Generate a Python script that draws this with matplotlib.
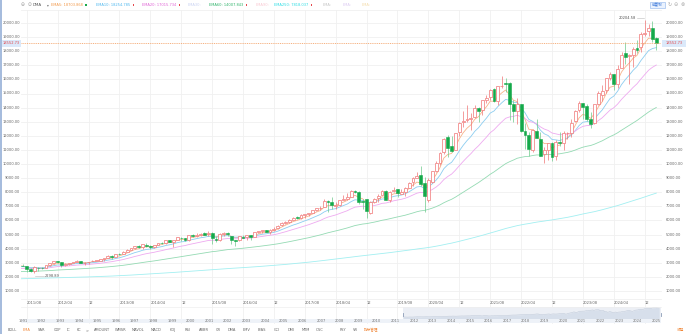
import numpy as np
import matplotlib
matplotlib.use("Agg")
import matplotlib.pyplot as plt
from matplotlib.patches import Rectangle

plt.rcParams['font.family'] = ['DejaVu Sans']
CJK = ['Noto Sans CJK SC', 'DejaVu Sans']

# monthly candles, first bar = 2011/06, last bar = 2025/03
first_year, first_month = 2011, 6

opens = [
    2769, 2779, 2770, 2574, 2406, 2636, 2609,
    2627, 2827, 2971, 3093, 3040, 2825, 2939, 2951, 3074, 3114, 2991, 3018,
    3091, 3150, 3154, 3266, 3320, 3463, 3434, 3638, 3611, 3775, 3927, 4068,
    4160, 4103, 4269, 4202, 4125, 4247, 4413, 4365, 4596, 4498, 4633, 4781,
    4760, 4631, 4971, 4903, 4960, 5073, 5013, 5133, 4691, 4630, 5070, 5128,
    4897, 4587, 4579, 4852, 4789, 4944, 4838, 5171, 5213, 5318, 5188, 5331,
    5426, 5645, 5829, 5916, 6049, 6215, 6180, 6361, 6443, 6523, 6726, 6880,
    6937, 7385, 7282, 7036, 7086, 7471, 7499, 7681, 8117, 8049, 7340, 7486,
    6507, 7310, 7576, 7800, 8087, 7460, 8091, 8199, 7906, 8016, 8331, 8700,
    9039, 9190, 8667, 7459, 8740, 9471, 10061, 10878, 11883, 11288, 11010, 12255,
    12958, 13127, 13224, 13320, 13981, 13807, 14546, 14719, 15322, 14454, 15530, 15722,
    15732, 14284, 13769, 14273, 12338, 12036, 11004, 12320, 11782, 10738, 11013, 11523,
    10563, 11549, 11471, 12205, 12170, 13020, 13839, 14325, 14122, 13216, 12886, 14247,
    14874, 15217, 16121, 16388, 15683, 16827, 17880, 17630, 17708, 18212, 18281, 19236,
    19404, 19679, 18939,
]
highs = [
    2796, 2887, 2777, 2644, 2753, 2700, 2689,
    2818, 2987, 3134, 3123, 3085, 2945, 2980, 3085, 3196, 3138, 3021, 3068,
    3160, 3213, 3271, 3345, 3532, 3516, 3627, 3694, 3795, 3952, 4070, 4177,
    4247, 4342, 4372, 4287, 4247, 4409, 4486, 4580, 4610, 4641, 4810, 4815,
    4777, 4984, 5043, 5120, 5111, 5164, 5232, 5148, 4870, 5086, 5163, 5176,
    4903, 4629, 4870, 4975, 4955, 4985, 5176, 5272, 5343, 5342, 5408, 5512,
    5665, 5855, 5929, 6075, 6245, 6341, 6460, 6423, 6496, 6753, 6914, 7004,
    7506, 7451, 7637, 7317, 7445, 7806, 7933, 8133, 8133, 8107, 7486, 7536,
    7356, 7577, 7850, 8176, 8164, 8106, 8340, 8248, 8243, 8375, 8705, 9052,
    9451, 9838, 9070, 8981, 9523, 10221, 10874, 11829, 12074, 11965, 12232, 12973,
    13729, 14176, 13620, 14212, 14011, 14535, 14863, 15288, 15404, 15505, 16212, 16114,
    15833, 14543, 14647, 14283, 12943, 12241, 12467, 13181, 12270, 11224, 11500, 11571,
    11691, 12270, 12312, 12269, 13212, 13830, 14447, 14350, 14257, 13714, 14259, 15147,
    15598, 16134, 16539, 16416, 17032, 17937, 18671, 17786, 18326, 18785, 19366, 20204.58,
    19952, 20111, 19038,
]
lows = [
    2612, 2736, 2331, 2335, 2298.89, 2441, 2519,
    2624, 2800, 2930, 2987, 2726, 2747, 2825, 2946, 3040, 2977, 2810, 2919,
    3087, 3105, 3148, 3154, 3299, 3294, 3429, 3578, 3602, 3750, 3892, 3997,
    4064, 3968, 4138, 3946, 4042, 4232, 4359, 4325, 4486, 4117, 4585, 4548,
    4563, 4558, 4818, 4843, 4877, 4986, 4909, 4292, 4487, 4544, 4918, 4899,
    4313, 4210, 4549, 4749, 4637, 4575, 4822, 5139, 5125, 5154, 5035, 5261,
    5398, 5594, 5770, 5805, 5997, 6081, 6095, 6178, 6327, 6492, 6671, 6720,
    6926, 6630, 6805, 6807, 7003, 7445, 7452, 7641, 7922, 7193, 6830, 6190,
    6457, 7246, 7332, 7783, 7442, 7292, 7990, 7662, 7839, 7701, 8296, 8434,
    8981, 8436, 6631, 7286, 8634, 9403, 9948, 10708, 10520, 10822, 10973, 12011,
    12620, 13003, 12397, 13239, 12986, 13509, 14334, 14555, 14432, 14182, 15356, 15115,
    13095, 13003, 12834, 12288, 11036, 10565, 10860, 11816, 10576, 10089, 10262, 10207,
    10265, 11296, 10983, 11797, 11925, 12948, 13710, 13161, 13073, 12544, 12854, 14180,
    14478, 15038, 15987, 15223, 15356, 16820, 17126, 15708, 16851, 17853, 17936, 19100,
    19069, 18677, 18100,
]
closes = [
    2774, 2756, 2579, 2415, 2684, 2620, 2605,
    2814, 2967, 3091, 3046, 2827, 2935, 2940, 3067, 3116, 2977, 3010, 3020,
    3142, 3160, 3268, 3329, 3456, 3403, 3626, 3590, 3771, 3920, 4060, 4177,
    4104, 4308, 4199, 4115, 4243, 4408, 4370, 4580, 4493, 4631, 4792, 4736,
    4635, 4964, 4901, 4941, 5070, 4987, 5128, 4777, 4620, 5054, 5109, 5007,
    4614, 4558, 4870, 4775, 4948, 4843, 5162, 5213, 5312, 5189, 5324, 5383,
    5615, 5825, 5912, 6048, 6199, 6140, 6348, 6429, 6496, 6728, 6874, 6903,
    7411, 7273, 7063, 7066, 7442, 7510, 7672, 8110, 8046, 7306, 7331, 6635,
    7282, 7533, 7729, 8095, 7453, 8006, 8175, 7963, 7999, 8292, 8665, 8973,
    9151, 8567, 7700, 8890, 9490, 10059, 10745, 11775, 11168, 10912, 12199, 12888,
    13071, 13192, 13247, 13962, 13749, 14504, 14673, 15259, 14449, 15498, 15538, 15645,
    14240, 13751, 14221, 12335, 12081, 11029, 12391, 11816, 10576, 10988, 11468, 10466,
    11585, 11456, 12222, 12227, 12935, 13788, 14346, 14035, 13219, 12851, 14226, 15011,
    15164, 16092, 16379, 15658, 16735, 17733, 17599, 17714, 18189, 18095, 19218, 19311,
    19627, 18847, 18552.73,
]

# EMA periods and their starting levels at the left edge
ema_periods = [5, 10, 20, 60, 250]
ema_seeds = [2760, 2700, 2560, 2350, 1850]
ema_colors = ['#f7b48a', '#8ccdf0', '#eeaaf0', '#94dab3', '#a2eff1']

legend_labels = ['EMA5: 18703.868', 'EMA10: 18254.785', 'EMA20: 17015.734', 'EMA30:',
                 'EMA60: 14007.843', 'EMA90:', 'EMA250: 7818.037', 'EMA:', 'EMA:', 'EMA:']
legend_colors = ['#f2994a', '#4fb8ef', '#e066d6', '#c9d2f2', '#2fb36a', '#f9c9d2',
                 '#2ddde4', '#c4c4c4', '#dccaf2', '#f4dcaa']
legend_x = [51, 96, 142, 188, 209, 256, 274, 323, 343, 362]
legend_marks = ['#1aa84a', '#e5484d', '#e5484d', None, '#e5484d', None, '#e5484d', None, None, None]

tick_labels = ['2011/08', '2012/04', '12', '2013/08', '2014/04', '12', '2015/08', '2016/04', '12',
               '2017/08', '2018/04', '12', '2019/08', '2020/04', '12', '2021/08', '2022/04', '12',
               '2023/08', '2024/04', '12']
nav_years = list(range(1991, 2026))
tabs = ['BOLL', 'EMA', 'SAR', 'CDP', 'IC', 'KC', '>', 'AMOUNT', 'WMSR', 'MAVOL', 'MACD', 'KDJ',
        'RSI', 'ARBR', 'CR', 'DMA', 'EMV', 'BIAS', 'CCI', 'DMI', 'MTM', 'OSC', 'PSY', 'VR']
tab_x = [12, 27, 42, 57, 68, 79, 87, 102, 121, 138, 156, 173, 188, 204, 218, 232, 247, 262,
         277, 291, 306, 320, 343, 355]

W, H = 688, 334
X0, DX = 26.7, 3.8625          # pixel of bar 2011/08 and pixels per month
Y20K, PX1000 = 23.0, 14.1      # pixel of 20000 and pixels per 1000 points
FS = 2.6
GRID = '#f0f0f0'

o = np.array(opens, float)
h = np.array(highs, float)
l = np.array(lows, float)
c = np.array(closes, float)
n = len(c)
idx = np.arange(n) - 2         # 2011/06 sits two bars before 2011/08


def px(i):
    return X0 + DX * i


def py(v):
    return Y20K + (20000 - v) / 1000 * PX1000


def val(y):
    return 20000 - (y - Y20K) / PX1000 * 1000


def frac(x0, y0, x1, y1):
    return [x0 / W, 1 - y1 / H, (x1 - x0) / W, (y1 - y0) / H]


def ema(values, span, seed):
    a = 2.0 / (span + 1)
    out, prev = [], seed
    for v in values:
        prev = prev + a * (v - prev)
        out.append(prev)
    return np.array(out)


fig = plt.figure(figsize=(W / 100, H / 100), dpi=100)
fig.patch.set_facecolor('white')

# pixel-space layer for the frame, labels and navigator
pa = fig.add_axes([0, 0, 1, 1])
pa.set_xlim(0, W)
pa.set_ylim(H, 0)
pa.axis('off')

pa.add_patch(Rectangle((0, 0), 1.6, H, color='#a6bcdd', lw=0))

# grid
for k in range(len(tick_labels)):
    x = px(8 * k)
    pa.plot([x, x], [10, 323], color=GRID, lw=0.6, zorder=0)
    pa.text(x, 302.5, tick_labels[k], fontsize=FS, color='#666666', ha='left', va='center')
pa.plot([21, 661], [10, 10], color=GRID, lw=0.6, zorder=0)
pa.plot([21, 661], [298.5, 298.5], color=GRID, lw=0.6, zorder=0)

for v in range(1000, 20001, 1000):
    y = py(v)
    pa.plot([21, 661], [y, y], color=GRID, lw=0.6, zorder=0)
    s = f'{v:.2f}'
    pa.text(20, y, s, fontsize=FS, color='#666666', ha='right', va='center')
    pa.text(666, y, s, fontsize=FS, color='#666666', ha='left', va='center')

# main price panel
ax = fig.add_axes(frac(21, 10, 661, 298.5))
ax.set_facecolor('none')
ax.set_xlim((21 - X0) / DX, (661 - X0) / DX)
ax.set_ylim(val(298.5), val(10))
ax.axis('off')

for period, seed, col in zip(ema_periods, ema_seeds, ema_colors):
    ax.plot(idx, ema(c, period, seed), color=col, lw=0.6, zorder=2)

up = c >= o
bw = 0.74
for i in range(n):
    x = idx[i]
    lo, hi = min(o[i], c[i]), max(o[i], c[i])
    if up[i]:
        ax.vlines(x, l[i], lo, color='#f07575', lw=0.5, zorder=3)
        ax.vlines(x, hi, h[i], color='#f07575', lw=0.5, zorder=3)
        ax.add_patch(Rectangle((x - bw / 2, lo), bw, max(hi - lo, 20), facecolor='white',
                               edgecolor='#f07575', lw=0.5, zorder=4))
    else:
        ax.vlines(x, l[i], h[i], color='#6cc98a', lw=0.5, zorder=3)
        ax.add_patch(Rectangle((x - bw / 2, lo), bw, max(hi - lo, 20), facecolor='#14a94a',
                               edgecolor='#14a94a', lw=0.4, zorder=4))

# last price line and its tags
last = c[-1]
ax.axhline(last, color='#f4a56c', lw=0.6, ls=(0, (1.2, 1.0)), zorder=5)
yl = py(last)
for bx, bwid in [(1.8, 19.5), (662, 24)]:
    pa.add_patch(Rectangle((bx, yl - 3.6), bwid, 7.2, facecolor='#dbe9fa', lw=0, zorder=6))
    pa.text(bx + bwid / 2, yl, f'{last:.2f}', fontsize=FS, color='#e0474c',
            ha='center', va='center', zorder=7)

# extreme markers
imax, imin = int(np.argmax(h)), int(np.argmin(l))
xm, ym = px(idx[imax]), py(h[imax])
pa.plot([xm - 8, xm - 1], [ym - 2.5, ym - 2.5], color='#bbbbbb', lw=0.4)
pa.text(xm - 8.5, ym - 2.5, f'{h[imax]:.2f}', fontsize=FS, color='#555555', ha='right', va='center')
xn, yn = px(idx[imin]), py(l[imin])
pa.plot([xn + 1, xn + 10], [yn + 3, yn + 3], color='#bbbbbb', lw=0.4)
pa.text(xn + 10.5, yn + 3, f'{l[imin]:.2f}', fontsize=FS, color='#555555', ha='left', va='center')

# header
pa.text(23, 5, '\u2296', fontsize=3.4, color='#9a9a9a', ha='center', va='center')
pa.text(30, 5, '\u2299', fontsize=3.4, color='#9a9a9a', ha='center', va='center')
pa.text(33, 5, 'DMA', fontsize=FS + 0.3, color='#555555', ha='left', va='center')
pa.text(48, 5, '\u25be', fontsize=FS, color='#777777', ha='center', va='center')
for txt, col, x, mk in zip(legend_labels, legend_colors, legend_x, legend_marks):
    pa.text(x, 5, txt, fontsize=FS, color=col, ha='left', va='center')
    if mk:
        xe = x + len(txt) * 2.13 + 2.5
        pa.add_patch(Rectangle((xe, 4.2), 1.3, 1.4, color=mk, lw=0))

pa.add_patch(Rectangle((650, 2.3), 15, 5.6, facecolor='#eaf2fe', edgecolor='#8db3ec', lw=0.4))
pa.text(657.5, 5.1, '前复权', fontsize=FS, color='#2f6fd6', ha='center', va='center', family=CJK)
for x, s in [(669.5, '\u21bb'), (676, '\u2296'), (682.5, '\u2297')]:
    pa.text(x, 5, s, fontsize=3.6, color='#aaaaaa', ha='center', va='center')

# navigator
NX0, NDX = 23.0, 18.62
nav_x = NX0 + NDX * ((first_year - 1991) + (first_month - 1) / 12 + np.arange(n) / 12)
nav_y = 318.5 - c / 20500 * 11.5
pa.add_patch(Rectangle((nav_x[0], 306.5), 661 - nav_x[0], 16.5, facecolor='#eceff5', lw=0, zorder=0))
pa.add_patch(Rectangle((21, 318.5), 640, 4.5, facecolor='#eef2f8', lw=0, zorder=0))
pa.fill_between(nav_x, nav_y, 318.5, color='#d7dfeb', lw=0, zorder=1)
pa.plot(nav_x, nav_y, color='#c2ccdb', lw=0.4, zorder=1)
pa.plot([21, 661], [306.5, 306.5], color='#eeeeee', lw=0.5)
for k, yr in enumerate(nav_years):
    pa.text(NX0 + NDX * k, 321, str(yr), fontsize=FS, color='#777777', ha='center', va='center')
for x in (nav_x[0], 660.5):
    pa.plot([x, x], [312.5, 315.5], color='#8a9bb5', lw=0.6)

# indicator tabs
for t, x in zip(tabs, tab_x):
    pa.text(x, 330, t, fontsize=FS, color='#f0883a' if t == 'EMA' else '#666666',
            ha='center', va='center')
pa.text(371, 330, '指标管理', fontsize=FS, color='#f0883a', ha='center', va='center', family=CJK)
pa.text(680, 330, '收起', fontsize=FS, color='#f0883a', ha='center', va='center', family=CJK)

fig.savefig('out.png', dpi=100, facecolor='white')
